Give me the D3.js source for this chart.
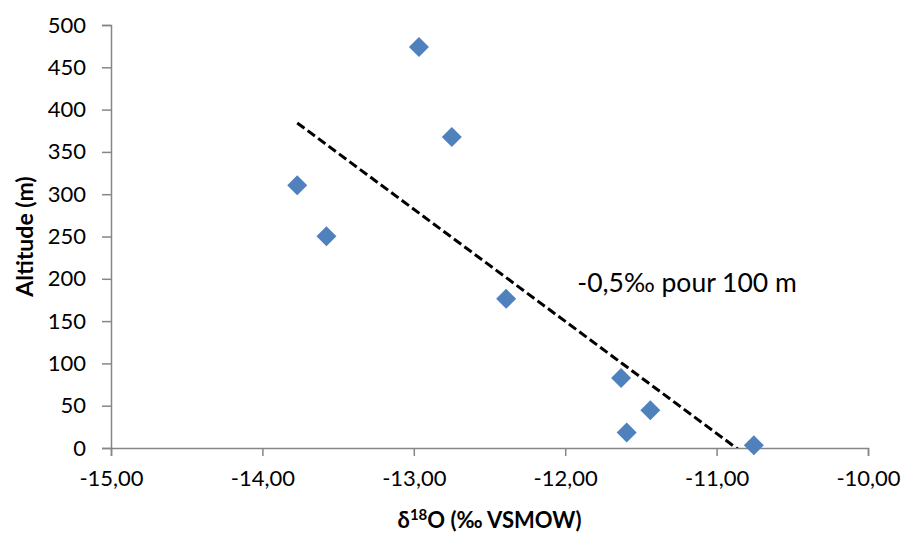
<!DOCTYPE html>
<html><head><meta charset="utf-8">
<script src="https://cdn.jsdelivr.net/npm/d3@7/dist/d3.min.js"></script>
<style>
html,body{margin:0;padding:0;background:#fff;}
svg text{font-family:Lato,"Open Sans",sans-serif;fill:#000;}
</style></head>
<body><svg id="c" width="906" height="533"></svg>
<script>
const delta18O = [-12.966, -12.749, -13.77, -13.577, -12.39, -11.631, -11.438, -11.594, -10.754];
const altitude = [474, 367.5, 310.7, 250.4, 176.3, 82.8, 44.6, 18.2, 3.2];
const xTicks = [-15, -14, -13, -12, -11, -10];
const yTicks = [0, 50, 100, 150, 200, 250, 300, 350, 400, 450, 500];
const annotationText = "-0,5‰ pour 100 m";
const annotationPos = [-11.92, 184];

const svg = d3.select("#c");
const L = 111, R = 868, T = 25, B = 448;
const x = d3.scaleLinear().domain([-15, -10]).range([L, R]);
const y = d3.scaleLinear().domain([0, 500]).range([B, T]);
const axisColor = "#868686";
const fmt = v => d3.format(".2f")(v).replace(".", ",").replace("−", "-");

svg.append("defs").append("clipPath").attr("id", "pc")
  .append("rect").attr("x", L).attr("y", T).attr("width", R - L).attr("height", B - T);

const ya = svg.append("g").attr("transform", `translate(${L},0)`)
  .call(d3.axisLeft(y).tickValues(yTicks).tickSize(9).tickPadding(16).tickFormat(d3.format("d")));
ya.select(".domain").attr("stroke", axisColor).attr("stroke-width", 1.5);
ya.selectAll(".tick line").attr("stroke", axisColor).attr("stroke-width", 1.5);
ya.selectAll("text").style("font-size", "22px").attr("fill", "#000");

const xa = svg.append("g").attr("transform", `translate(0,${B})`)
  .call(d3.axisBottom(x).tickValues(xTicks).tickSize(8).tickPadding(14).tickFormat(fmt));
xa.select(".domain").attr("stroke", axisColor).attr("stroke-width", 1.5);
xa.selectAll(".tick line").attr("stroke", axisColor).attr("stroke-width", 1.5);
xa.selectAll("text").style("font-size", "22px").attr("fill", "#000");

const n = delta18O.length;
const mx = d3.mean(delta18O), my = d3.mean(altitude);
let sxy = 0, sxx = 0;
for (let i = 0; i < n; i++) { sxy += (delta18O[i] - mx) * (altitude[i] - my); sxx += (delta18O[i] - mx) ** 2; }
const slope = sxy / sxx, icpt = my - slope * mx;
const [x0, x1] = d3.extent(delta18O);
svg.append("line").attr("clip-path", "url(#pc)")
  .attr("x1", x(x0)).attr("y1", y(slope * x0 + icpt))
  .attr("x2", x(x1)).attr("y2", y(slope * x1 + icpt))
  .attr("stroke", "#000").attr("stroke-width", 3).attr("stroke-dasharray", "9,4");

const sym = d3.symbol().type(d3.symbolSquare).size(200);
svg.append("g").selectAll("path").data(delta18O).join("path")
  .attr("d", sym)
  .attr("transform", (d, i) => `translate(${x(d)},${y(altitude[i])}) rotate(45)`)
  .attr("fill", "#4F81BD");

svg.append("text").attr("x", x(annotationPos[0])).attr("y", y(annotationPos[1]))
  .style("font-size", "26.5px").text(annotationText);

svg.append("text").attr("transform", `translate(33,${(T + B) / 2}) rotate(-90)`)
  .attr("text-anchor", "middle").style("font-size", "23px").style("font-weight", "bold")
  .text("Altitude (m)");
const xt = svg.append("text").attr("x", (L + R) / 2).attr("y", 528)
  .attr("text-anchor", "middle").style("font-size", "22px").style("font-weight", "bold");
xt.append("tspan").text("δ");
xt.append("tspan").attr("dy", -8).style("font-size", "15px").text("18");
xt.append("tspan").attr("dy", 8).text("O (‰ VSMOW)");
</script></body></html>
